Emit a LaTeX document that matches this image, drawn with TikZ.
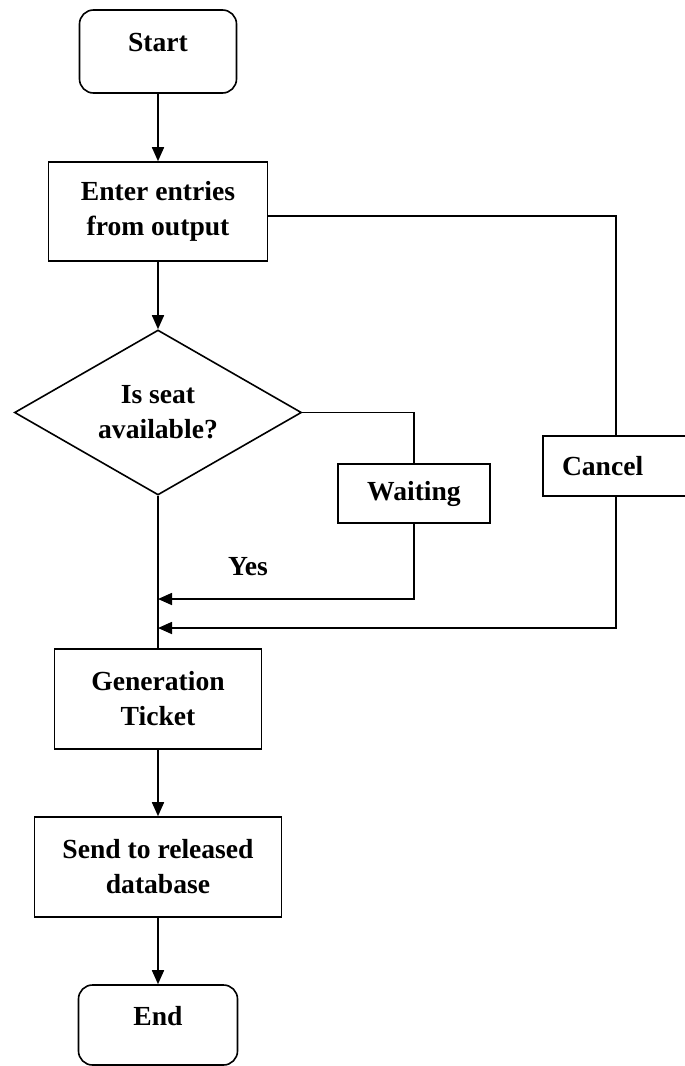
\documentclass[tikz,border=0pt]{standalone}
\usepackage{fontspec}
\setmainfont{Liberation Serif}
\usetikzlibrary{shapes.geometric,arrows.meta}
\begin{document}
\begin{tikzpicture}[x=1pt,y=-1pt,
  every node/.style={font=\fontsize{27.6}{35}\selectfont\bfseries, align=center, line width=1.6pt},
  box/.style={draw, rectangle, inner sep=0pt},
  term/.style={draw, rectangle, rounded corners=14pt, inner sep=0pt, text height=20pt, text depth=20pt},
  dec/.style={draw, diamond, shape aspect=1.74, inner sep=0pt, minimum width=287pt, minimum height=165pt},
  conn/.style={line width=1.6pt},
  arr/.style={conn, -{Triangle[length=14pt,width=12pt]}}]
\useasboundingbox (0,0) rectangle (685,1066);
\fill[white] (0,0) rectangle (685,1066);

\node[term, minimum width=157pt, minimum height=83pt] (start) at (158,51.5) {Start};
\node[box, minimum width=219pt, minimum height=99pt] (enter) at (158,211.5) {Enter entries\\from output};
\node[dec] (dia) at (158,412.5) {Is seat\\available?};
\node[box, minimum width=152pt, minimum height=59pt] (wait) at (414,493.5) {Waiting};
\node[draw, rectangle, inner xsep=19pt, inner ysep=0pt, text width=119pt, align=left, minimum height=60pt] (cancel) at (621.5,466) {Cancel};
\node (yes) at (248,567) {Yes};
\node[box, minimum width=207pt, minimum height=100pt] (gen) at (158,699) {Generation\\Ticket};
\node[box, minimum width=247pt, minimum height=100pt] (send) at (158,867) {Send to released\\database};
\node[term, minimum width=159pt, minimum height=80pt] (end) at (158,1025) {End};

\coordinate (cx) at (616,216);
\coordinate (j1) at (158,599);
\coordinate (j2) at (158,628);

\draw[arr] (start) -- (enter);
\draw[arr] (enter) -- (dia);
\draw[conn] (dia.south) -- (gen.north);
\draw[conn] (dia.east) -| (wait.north);
\draw[arr] (wait.south) |- (j1);
\draw[conn] (enter.east |- cx) -- (cx) -- (cx |- cancel.north);
\draw[arr] (cx |- cancel.south) |- (j2);
\draw[arr] (gen) -- (send);
\draw[arr] (send) -- (end);
\end{tikzpicture}
\end{document}
